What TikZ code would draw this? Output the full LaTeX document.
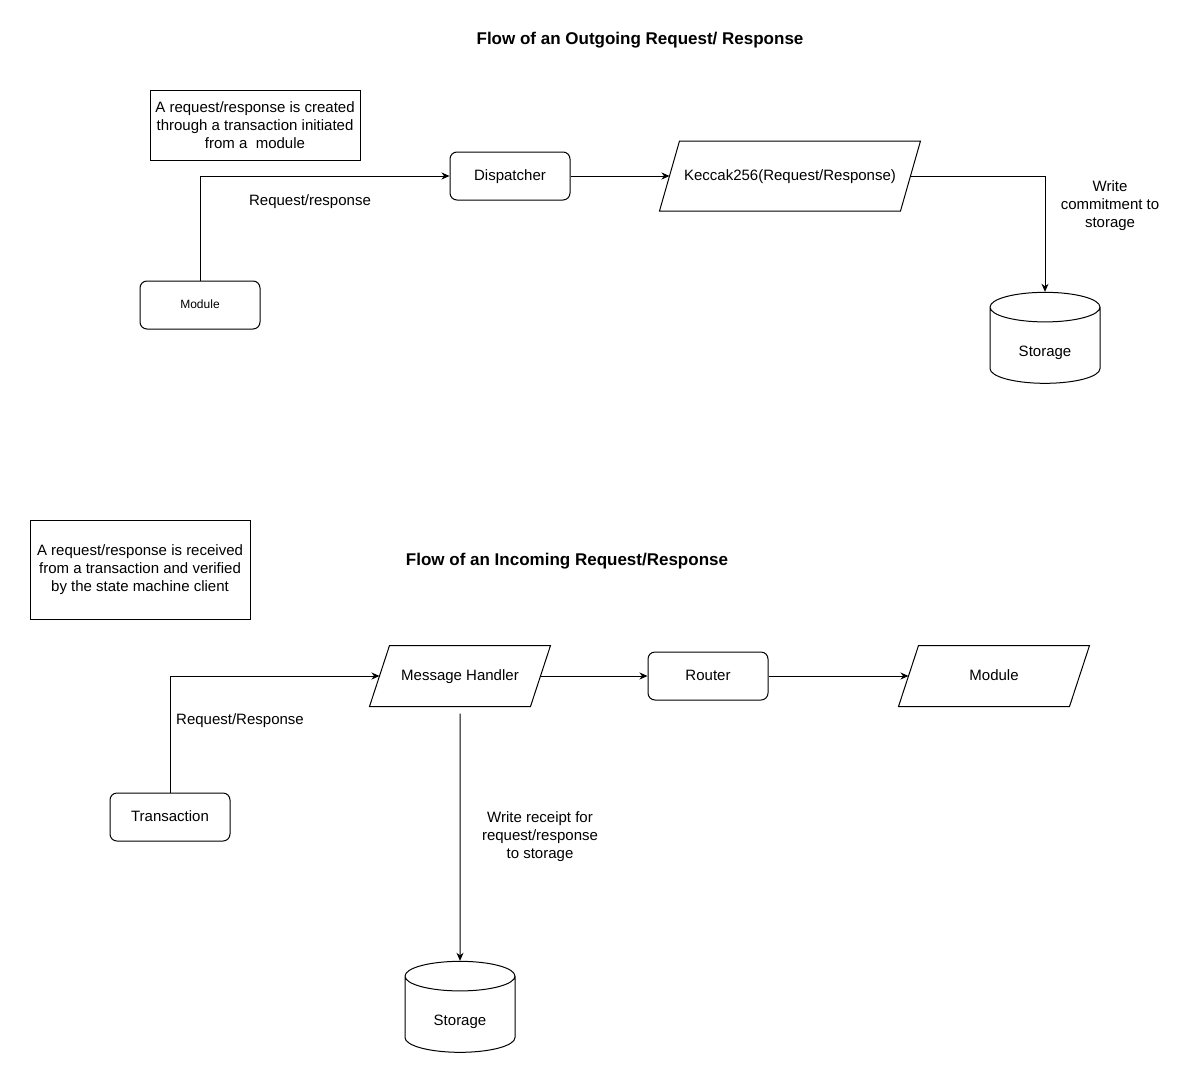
\documentclass[tikz,border=0pt]{standalone}
\usepackage{fontspec}
\setmainfont{Liberation Sans}
\usetikzlibrary{arrows.meta}
\usetikzlibrary{shapes.geometric}
\tikzstyle{flow}=[x=1pt, y=-1pt, line width=1pt, font=\fontsize{15}{18}\selectfont]
\tikzstyle{heading}=[font=\fontsize{17}{20}\selectfont\bfseries]
\tikzstyle{note}=[rectangle, draw, align=center, inner sep=0pt]
\tikzstyle{proc}=[rectangle, rounded corners=7pt, draw, fill=white, minimum width=120pt, minimum height=48pt, text depth=1pt]
\tikzstyle{io}=[rectangle, inner sep=0pt, text depth=1pt]
\tikzstyle{slant}=[line join=miter]
\tikzstyle{store}=[cylinder, shape border rotate=90, aspect=0.5, draw, fill=white, minimum width=110pt, minimum height=91pt]
\tikzstyle{edge}=[-{Stealth[length=8pt, width=7pt, inset=2.5pt]}]
\tikzstyle{edgeLabel}=[align=center]

\begin{document}
\begin{tikzpicture}[flow]
	\useasboundingbox (0,0) rectangle (1201,1087);
	% outgoing
	\draw (640,40) node[heading] (title1) {Flow of an Outgoing Request/ Response};
	\draw (255,125) node[note, minimum width=210pt, minimum height=70pt] (note1) {A request/response is created\\through a transaction initiated\\from a \ module};
	\draw (200,305) node[proc, font=\fontsize{12}{14}\selectfont] (mod1) {Module};
	\draw (510,176) node[proc] (disp) {Dispatcher};
	\draw (790,176) node[io, minimum width=240pt, minimum height=69pt] (kec) {Keccak256(Request/Response)};
	\draw[slant] ([xshift=-10pt]kec.south west) -- ([xshift=10pt]kec.north west) -- ([xshift=10pt]kec.north east) -- ([xshift=-10pt]kec.south east) -- cycle;
	\draw (1045,348) node[store] (sto1) {\raisebox{-8.5pt}[0pt][0pt]{Storage}};
	
	\draw[edge] (mod1) |- (disp);
	\draw[edge] (disp) -- (kec);
	\draw[edge] (kec) -| (sto1);
	\draw (310,202) node[edgeLabel] (l1) {Request/response};
	\draw (1110,206) node[edgeLabel] (l2) {Write\\commitment to\\storage};
	%
	% incoming
	\draw (567,561) node[heading] (title2) {Flow of an Incoming Request/Response};
	\draw (140,570) node[note, minimum width=220pt, minimum height=99pt] (note2) {A request/response is received\\from a transaction and verified\\by the state machine client};
	\draw (170,817) node[proc] (tx) {Transaction};
	\draw (460,676) node[io, minimum width=160pt, minimum height=60pt] (mh) {Message Handler};
	\draw[slant] ([xshift=-10pt]mh.south west) -- ([xshift=10pt]mh.north west) -- ([xshift=10pt]mh.north east) -- ([xshift=-10pt]mh.south east) -- cycle;
	\draw (708,676) node[proc] (rt) {Router};
	\draw (994,676) node[io, minimum width=170pt, minimum height=60pt] (mod2) {Module};
	\draw[slant] ([xshift=-10pt]mod2.south west) -- ([xshift=10pt]mod2.north west) -- ([xshift=10pt]mod2.north east) -- ([xshift=-10pt]mod2.south east) -- cycle;
	\draw (460,1017) node[store] (sto2) {\raisebox{-8.5pt}[0pt][0pt]{Storage}};
	
	\draw[edge] (tx) |- (mh);
	\draw[edge] (mh) -- (rt);
	\draw[edge] (rt) -- (mod2);
	\draw[edge, shorten <=7pt] (mh) -- (sto2);
	\draw (240,721) node[edgeLabel] (l3) {Request/Response};
	\draw (540,837) node[edgeLabel] (l4) {Write receipt for\\request/response\\to storage};
\end{tikzpicture}
\end{document}
